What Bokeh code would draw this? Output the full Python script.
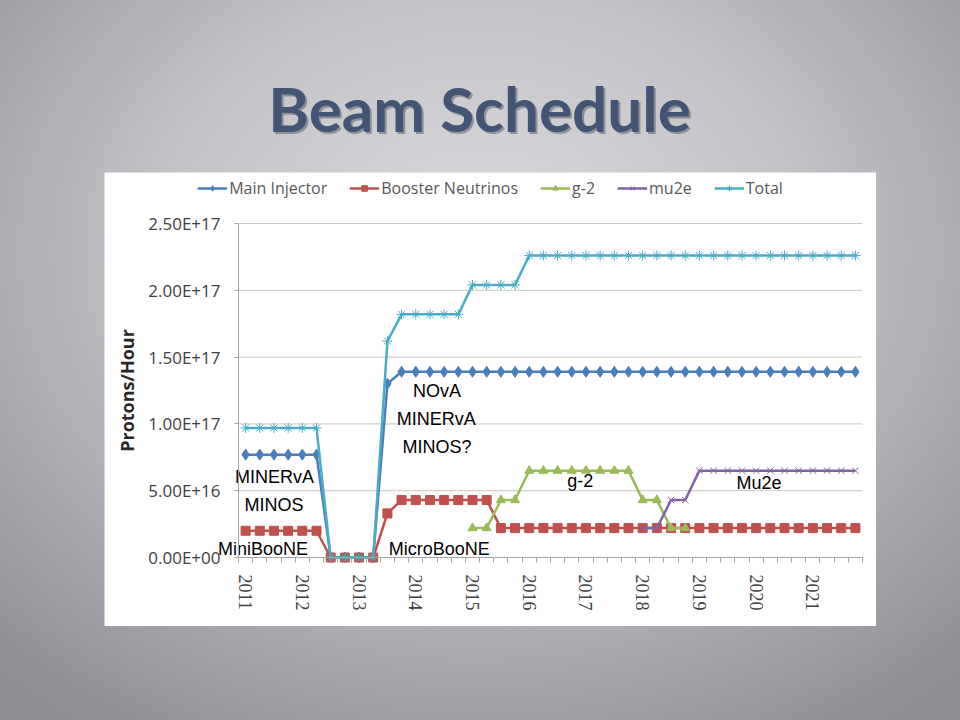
import numpy as np
from bokeh.plotting import figure
from bokeh.models import Range1d, FixedTicker, Legend, LegendItem, Label, Spacer, LinearAxis
from bokeh.layouts import column, row
from bokeh.embed import file_html
from bokeh.resources import INLINE
from bokeh.core.properties import value

# ---------------- data (units of 1E16 protons/hour) ----------------
years = [2011, 2012, 2013, 2014, 2015, 2016, 2017, 2018, 2019, 2020, 2021]
quarters = [f"{y} Q{q}" for y in years for q in (1, 2, 3, 4)]

main_injector = [7.7, 7.7, 7.7, 7.7, 7.7, 7.7, 0, 0, 0, 0, 13.0,
                 13.9, 13.9, 13.9, 13.9, 13.9, 13.9, 13.9, 13.9, 13.9, 13.9, 13.9,
                 13.9, 13.9, 13.9, 13.9, 13.9, 13.9, 13.9, 13.9, 13.9, 13.9, 13.9,
                 13.9, 13.9, 13.9, 13.9, 13.9, 13.9, 13.9, 13.9, 13.9, 13.9, 13.9]
booster = [2.0, 2.0, 2.0, 2.0, 2.0, 2.0, 0, 0, 0, 0, 3.3,
           4.3, 4.3, 4.3, 4.3, 4.3, 4.3, 4.3, 2.2, 2.2, 2.2, 2.2,
           2.2, 2.2, 2.2, 2.2, 2.2, 2.2, 2.2, 2.2, 2.2, 2.2, 2.2,
           2.2, 2.2, 2.2, 2.2, 2.2, 2.2, 2.2, 2.2, 2.2, 2.2, 2.2]
g2_start = "2015 Q1"
g2 = [2.2, 2.2, 4.3, 4.3, 6.5, 6.5, 6.5, 6.5, 6.5, 6.5, 6.5, 6.5, 4.3, 4.3, 2.2, 2.2]
mu2e_start = "2018 Q1"
mu2e = [2.2, 2.2, 4.3, 4.3, 6.5, 6.5, 6.5, 6.5, 6.5, 6.5, 6.5, 6.5, 6.5, 6.5, 6.5, 6.5]
total = [9.7, 9.7, 9.7, 9.7, 9.7, 9.7, 0, 0, 0, 0, 16.2,
         18.2, 18.2, 18.2, 18.2, 18.2, 20.4, 20.4, 20.4, 20.4, 22.6, 22.6,
         22.6, 22.6, 22.6, 22.6, 22.6, 22.6, 22.6, 22.6, 22.6, 22.6, 22.6,
         22.6, 22.6, 22.6, 22.6, 22.6, 22.6, 22.6, 22.6, 22.6, 22.6, 22.6]

y_ticks = [0, 5, 10, 15, 20, 25]
y_tick_labels = ["0.00E+00", "5.00E+16", "1.00E+17", "1.50E+17", "2.00E+17", "2.50E+17"]

# annotations: text, category (+ fraction of a quarter), value
notes_text = ["MINERvA", "MINOS", "MiniBooNE", "NOvA", "MINERvA", "MINOS?", "MicroBooNE", "g-2", "Mu2e"]
notes_cat = ["2011 Q3", "2011 Q3", "2011 Q2", "2014 Q2", "2014 Q2", "2014 Q2", "2014 Q2", "2016 Q4", "2020 Q1"]
notes_off = [0.04, 0.0, 0.23, 0.5, 0.45, 0.5, 0.66, 0.6, 0.2]
notes_val = [6.06, 3.9, 0.67, 12.5, 10.33, 8.3, 0.67, 5.76, 5.54]

# ---------------- layout geometry (pixels) ----------------
W, H = 772, 454                 # white chart panel
AX_L, AX_R = 134, 758           # plot area left/right inside panel
AX_T, AX_B = 51, 385            # plot area top/bottom inside panel
n = len(quarters)
sx = (AX_R - AX_L) / n
ymax = y_ticks[-1]
sy = (AX_B - AX_T) / ymax

idx = {q: i for i, q in enumerate(quarters)}
x_all = np.arange(n)
x_g2 = np.arange(idx[g2_start], idx[g2_start] + len(g2))
x_mu2e = np.arange(idx[mu2e_start], idx[mu2e_start] + len(mu2e))

p = figure(width=W, height=H, output_backend="svg", toolbar_location=None,
           x_range=Range1d(-0.5 - AX_L / sx, n - 0.5 + (W - AX_R) / sx),
           y_range=Range1d(-(H - AX_B) / sy, ymax + AX_T / sy),
           min_border=0, x_axis_location=None, y_axis_location=None)
p.background_fill_color = "white"
p.border_fill_color = "white"
p.outline_line_color = None
p.grid.visible = False

# gridlines limited to plot area
p.segment(x0=-0.5, x1=n - 0.5, y0=y_ticks[1:], y1=y_ticks[1:], line_color="#c8c8c8", line_width=1)

# axes
yaxis = LinearAxis(fixed_location=-0.5, bounds=(0, ymax),
                   ticker=FixedTicker(ticks=y_ticks, minor_ticks=[]))
yaxis.major_label_overrides = {t: l for t, l in zip(y_ticks, y_tick_labels)}
yaxis.axis_line_color = "#a6a6a6"
yaxis.major_tick_line_color = "#a6a6a6"
yaxis.major_tick_out = 4
yaxis.major_tick_in = 0
yaxis.minor_tick_line_color = None
yaxis.major_label_text_font = "Open Sans"
yaxis.major_label_text_font_size = "17px"
yaxis.major_label_text_color = "#404040"
yaxis.major_label_standoff = 14
yaxis.axis_label = "Protons/Hour"
yaxis.axis_label_text_font = "Open Sans"
yaxis.axis_label_text_font_style = "bold"
yaxis.axis_label_text_font_size = "18px"
yaxis.axis_label_text_color = "#262626"
yaxis.axis_label_standoff = 6
p.add_layout(yaxis, "left")

year_pos = [idx[f"{y} Q1"] for y in years]
xaxis = LinearAxis(fixed_location=0, bounds=(-0.5, n - 0.5),
                   ticker=FixedTicker(ticks=year_pos, minor_ticks=[i - 0.5 for i in range(n + 1)]))
xaxis.major_label_overrides = {pos: str(y) for pos, y in zip(year_pos, years)}
xaxis.major_label_orientation = "vertical"
xaxis.axis_line_color = "#a6a6a6"
xaxis.major_tick_line_color = None
xaxis.major_tick_out = 0
xaxis.major_tick_in = 0
xaxis.minor_tick_line_color = "#a6a6a6"
xaxis.minor_tick_out = 5
xaxis.minor_tick_in = 0
xaxis.major_label_text_font = "Liberation Serif"
xaxis.major_label_text_font_size = "18px"
xaxis.major_label_text_color = "#404040"
xaxis.major_label_standoff = 12
p.add_layout(xaxis, "below")

LW = 2.5
c_mi, c_bn, c_g2, c_mu, c_tot = "#4a7ebb", "#c0504d", "#9bbb59", "#8064a2", "#4bacc6"

r1l = p.line(x_all, main_injector, line_color=c_mi, line_width=LW)
r1m = p.scatter(x_all, main_injector, marker="diamond", size=11, color=c_mi)
r2l = p.line(x_all, booster, line_color=c_bn, line_width=LW)
r2m = p.scatter(x_all, booster, marker="square", size=9, color=c_bn)
r3l = p.line(x_g2, g2, line_color=c_g2, line_width=LW)
r3m = p.scatter(x_g2, g2, marker="triangle", size=9, color=c_g2)
r4l = p.line(x_mu2e, mu2e, line_color=c_mu, line_width=LW)
r4m = p.scatter(x_mu2e, mu2e, marker="x", size=9, line_color=c_mu, line_width=1)
r5l = p.line(x_all, total, line_color=c_tot, line_width=LW)
r5m = p.scatter(x_all, total, marker="asterisk", size=10, line_color=c_tot, line_width=1)

legend = Legend(items=[
    LegendItem(label="Main Injector", renderers=[r1l, r1m]),
    LegendItem(label="Booster Neutrinos", renderers=[r2l, r2m]),
    LegendItem(label="g-2", renderers=[r3l, r3m]),
    LegendItem(label="mu2e", renderers=[r4l, r4m]),
    LegendItem(label="Total", renderers=[r5l, r5m]),
], orientation="horizontal", location="top_center")
legend.label_text_font = "Open Sans"
legend.label_text_font_size = "16px"
legend.label_text_color = "#595959"
legend.glyph_width = 30
legend.glyph_height = 14
legend.label_standoff = 2
legend.spacing = 22
legend.padding = 0
legend.margin = 5
legend.border_line_color = None
legend.background_fill_alpha = 0
p.add_layout(legend)

note_x = [idx[c] + o for c, o in zip(notes_cat, notes_off)]
p.text(x=note_x, y=notes_val, text=notes_text, text_font=value("Liberation Sans"),
       text_font_size="18px", text_color="black", text_align="center", text_baseline="middle")

# ---------------- slide title ----------------
t = figure(width=960, height=172, output_backend="svg", toolbar_location=None,
           x_range=Range1d(0, 960), y_range=Range1d(0, 172), min_border=0)
t.axis.visible = False
t.grid.visible = False
t.outline_line_color = None
t.background_fill_alpha = 0
t.border_fill_alpha = 0
t.add_layout(Label(x=481, y=63, x_units="screen", y_units="screen", text="Beam Schedule",
                   text_font="Lato", text_font_style="bold", text_font_size="62px",
                   text_color="#1e2633", text_alpha=0.35, text_align="center",
                   text_baseline="alphabetic"))
t.add_layout(Label(x=479, y=65, x_units="screen", y_units="screen", text="Beam Schedule",
                   text_font="Lato", text_font_style="bold", text_font_size="62px",
                   text_color="#435475", text_align="center", text_baseline="alphabetic"))

layout = column(t, row(Spacer(width=104, height=H), p), Spacer(width=960, height=720 - 172 - H),
                width=960, height=720, spacing=0,
                styles={"background": "radial-gradient(ellipse 75% 80% at 50% 35%, #dcdce0 0%, #c2c2c7 45%, #8c8c93 100%)"})

open("out.html", "w").write(file_html(layout, INLINE))
